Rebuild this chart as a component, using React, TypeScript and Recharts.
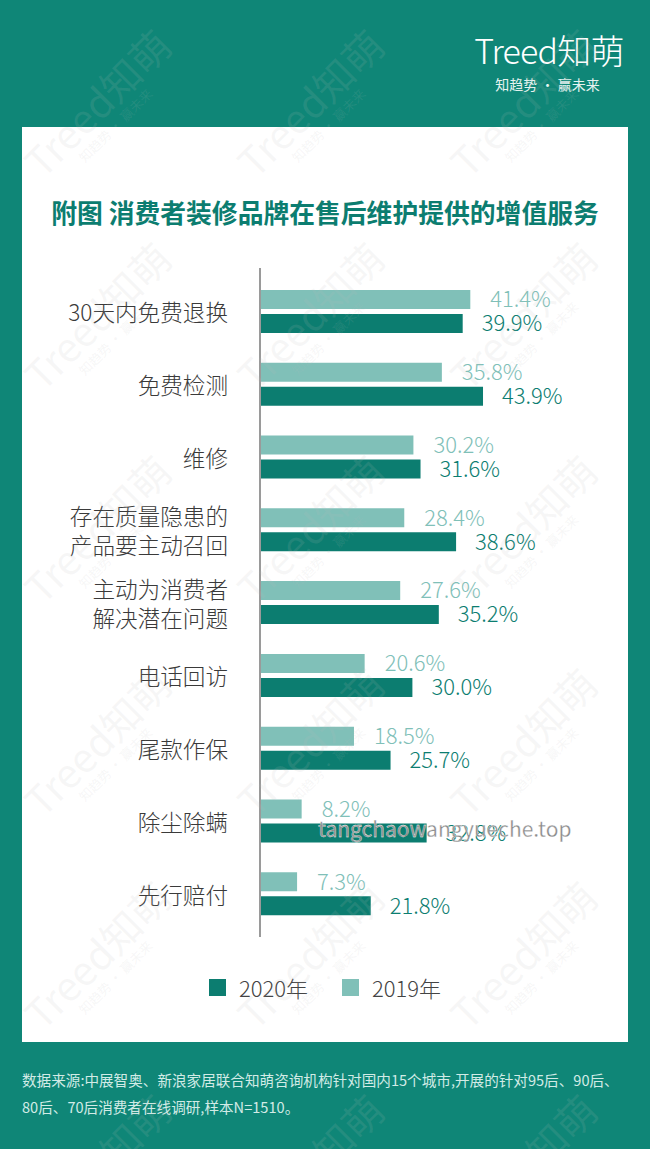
import React from 'react';
import { BarChart, Bar, XAxis, YAxis, LabelList } from 'recharts';

const categories = [
  '30天内免费退换',
  '免费检测',
  '维修',
  '存在质量隐患的\n产品要主动召回',
  '主动为消费者\n解决潜在问题',
  '电话回访',
  '尾款作保',
  '除尘除螨',
  '先行赔付',
];
const values2019 = [41.4, 35.8, 30.2, 28.4, 27.6, 20.6, 18.5, 8.2, 7.3];
const values2020 = [39.9, 43.9, 31.6, 38.6, 35.2, 30.0, 25.7, 32.8, 21.8];
const seriesNames = ['2020年', '2019年'];
const xDomain = [0, 50];

const FONT = "'Noto Sans CJK SC', 'Noto Sans', sans-serif";
const TEAL_BG = '#0f8677';
const DARK = '#0c7d70';
const LIGHT = '#80c0b8';

const data = categories.map((name, i) => ({
  name,
  v2019: values2019[i],
  v2020: values2020[i],
}));

const legendItems = [
  { name: seriesNames[0], color: DARK },
  { name: seriesNames[1], color: LIGHT },
];

const CatTick = (props: any) => {
  const { x, y, payload } = props;
  const lines: string[] = String(payload.value).split('\n');
  return (
    <text
      x={x}
      y={y}
      textAnchor="end"
      dominantBaseline="central"
      fontSize={22.6}
      fill="#3a3a3a"
      fontFamily={FONT}
      fontWeight={300}
    >
      {lines.map((l, i) => (
        <tspan key={i} x={x} dy={i === 0 ? -(lines.length - 1) * 14.5 : 29}>
          {l}
        </tspan>
      ))}
    </text>
  );
};

const fmt = (v: any) => `${Number(v).toFixed(1)}%`;

const watermarkPositions: [number, number][] = [];
for (let r = 0; r < 6; r++) {
  for (let c = 0; c < 3; c++) {
    watermarkPositions.push([100 + c * 213, 110 + r * 213]);
  }
}

export default function App() {
  return (
    <div
      style={{
        position: 'relative',
        width: 650,
        height: 1149,
        background: TEAL_BG,
        overflow: 'hidden',
        fontFamily: FONT,
      }}
    >
      <style>{`body{margin:0}`}</style>

      {/* logo */}
      <div
        style={{
          position: 'absolute',
          left: 466,
          top: 29,
          width: 166,
          textAlign: 'center',
          color: '#ffffff',
          fontSize: 34,
          fontWeight: 300,
          lineHeight: '42px',
          letterSpacing: -0.8,
          whiteSpace: 'nowrap',
        }}
      >
        Treed知萌
      </div>
      <div
        style={{
          position: 'absolute',
          left: 470,
          top: 74,
          width: 155,
          textAlign: 'center',
          color: '#e6f3f0',
          fontSize: 14,
          lineHeight: '20px',
        }}
      >
        知趋势 · 赢未来
      </div>

      {/* white panel */}
      <div
        style={{
          position: 'absolute',
          left: 22,
          top: 127,
          width: 606,
          height: 915,
          background: '#ffffff',
        }}
      />

      {/* title */}
      <div
        style={{
          position: 'absolute',
          left: 0,
          top: 193,
          width: 650,
          textAlign: 'center',
          color: DARK,
          fontSize: 25.8,
          fontWeight: 700,
          lineHeight: '38px',
          whiteSpace: 'nowrap',
        }}
      >
        附图 消费者装修品牌在售后维护提供的增值服务
      </div>

      {/* chart */}
      <div style={{ position: 'absolute', left: 0, top: 0 }}>
        <BarChart
          layout="vertical"
          width={650}
          height={1149}
          data={data}
          margin={{ top: 268, right: 136, bottom: 212, left: 0 }}
          barSize={19}
          barGap={5}
        >
          <XAxis type="number" domain={xDomain} hide />
          <YAxis
            type="category"
            dataKey="name"
            width={260}
            axisLine={{ stroke: '#9a9a9a', strokeWidth: 2 }}
            tickLine={false}
            tickSize={0}
            tickMargin={32}
            interval={0}
            padding={{ top: 7, bottom: 7 }}
            tick={<CatTick />}
          />
          <Bar dataKey="v2019" name={seriesNames[1]} fill={LIGHT} isAnimationActive={false}>
            <LabelList
              dataKey="v2019"
              position="right"
              offset={20}
              formatter={fmt}
              fill={LIGHT}
              fontSize={22}
              fontFamily={FONT}
              fontWeight={300}
            />
          </Bar>
          <Bar dataKey="v2020" name={seriesNames[0]} fill={DARK} isAnimationActive={false}>
            <LabelList
              dataKey="v2020"
              position="right"
              offset={19}
              formatter={fmt}
              fill={DARK}
              fontSize={22}
              fontFamily={FONT}
              fontWeight={300}
            />
          </Bar>
        </BarChart>
      </div>

      {/* legend */}
      <div
        style={{
          position: 'absolute',
          left: 0,
          top: 970,
          width: 650,
          display: 'flex',
          justifyContent: 'center',
          alignItems: 'center',
          gap: 34,
        }}
      >
        {legendItems.map((it) => (
          <div key={it.name} style={{ display: 'flex', alignItems: 'center' }}>
            <span
              style={{
                display: 'inline-block',
                width: 17,
                height: 17,
                background: it.color,
                marginRight: 13,
              }}
            />
            <span style={{ fontSize: 22, color: '#444', fontWeight: 300, lineHeight: '34px' }}>
              {it.name}
            </span>
          </div>
        ))}
      </div>

      {/* footer */}
      <div
        style={{
          position: 'absolute',
          left: 22,
          top: 1066,
          width: 610,
          color: '#d2ebe6',
          fontSize: 14.6,
          lineHeight: '27px',
          whiteSpace: 'nowrap',
        }}
      >
        <div>数据来源:中展智奥、新浪家居联合知萌咨询机构针对国内15个城市,开展的针对95后、90后、</div>
        <div>80后、70后消费者在线调研,样本N=1510。</div>
      </div>

      {/* watermarks */}
      {watermarkPositions.map(([x, y], i) => (
        <div
          key={i}
          style={{
            position: 'absolute',
            left: x - 90,
            top: y - 30,
            width: 180,
            textAlign: 'center',
            transform: 'rotate(-45deg)',
            color: 'rgba(190,190,190,0.13)',
            fontSize: 40,
            lineHeight: '44px',
            pointerEvents: 'none',
            whiteSpace: 'nowrap',
          }}
        >
          Treed知萌
          <div style={{ fontSize: 13, lineHeight: '16px' }}>知趋势 · 赢未来</div>
        </div>
      ))}

      <div
        style={{
          position: 'absolute',
          left: 318,
          top: 813,
          color: '#8a8a8a',
          fontSize: 21,
          lineHeight: '30px',
          whiteSpace: 'nowrap',
          WebkitTextStroke: '0.3px #ffffff',
          pointerEvents: 'none',
        }}
      >
        tangchaowangyueche.top
      </div>
    </div>
  );
}
